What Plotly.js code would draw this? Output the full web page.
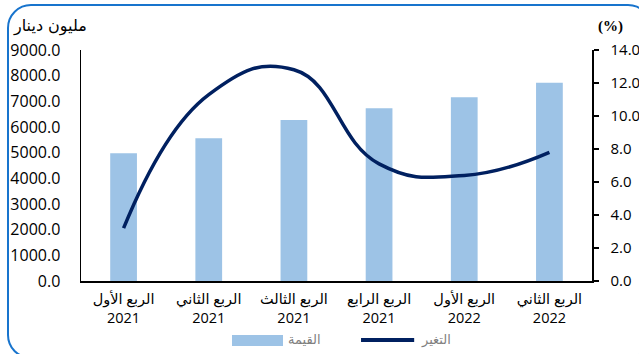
<!DOCTYPE html>
<html>
<head>
<meta charset="utf-8">
<script src="https://cdn.plot.ly/plotly-3.0.1.min.js"></script>
<style>
  html, body { margin: 0; padding: 0; background: #ffffff; overflow: hidden; }
  #frame { position: absolute; left: 7px; top: 4px; width: 645px; height: 355px;
           border: 2px solid #1874CD; border-radius: 24px; box-sizing: border-box; }
  #chart { position: absolute; left: 0; top: 0; width: 639px; height: 354px; }
</style>
</head>
<body>
<div id="frame"></div>
<div id="chart"></div>
<script>
// ---- data ----
const quarters = ["الربع الأول", "الربع الثاني", "الربع الثالث", "الربع الرابع", "الربع الأول", "الربع الثاني"];
const years = ["2021", "2021", "2021", "2021", "2022", "2022"];
const valueSeries = [4980, 5560, 6270, 6730, 7160, 7725];   // القيمة (مليون دينار)
const changeSeries = [3.2, 11.3, 12.8, 7.1, 6.4, 7.8];      // التغير (%)
const valueName = "القيمة";
const changeName = "التغير";
const leftUnit = "مليون دينار";
const rightUnit = "(%)";

const cats = quarters.map((q, i) => q + "<br>" + years[i]);

const barColor = "#9DC3E6";
const lineColor = "#002060";

const traces = [
  {
    type: "bar", name: valueName, x: cats, y: valueSeries,
    marker: { color: barColor }, width: 0.314, yaxis: "y"
  },
  {
    type: "scatter", mode: "lines", name: changeName, x: cats, y: changeSeries,
    line: { color: lineColor, width: 3.5, shape: "spline", smoothing: 1.3 },
    yaxis: "y2"
  }
];

const tickFont = { family: "Open Sans, DejaVu Sans, sans-serif", size: 16, color: "#000000" };
const legendFont = { family: "DejaVu Sans, sans-serif", size: 13, color: "#7F7F7F" };

const layout = {
  width: 639, height: 354,
  margin: { l: 81, r: 47, t: 50, b: 73, autoexpand: false },
  paper_bgcolor: "rgba(0,0,0,0)", plot_bgcolor: "rgba(0,0,0,0)",
  showlegend: false,
  xaxis: {
    type: "category", range: [-0.5, 5.5],
    showline: true, linecolor: "#000000", linewidth: 1.5,
    ticks: "", showgrid: false, zeroline: false,
    tickfont: { family: "Open Sans, DejaVu Sans, sans-serif", size: 14.5, color: "#000000" },
    ticklabelstandoff: 4
  },
  yaxis: {
    range: [0, 9000], dtick: 1000, tickformat: ".1f",
    showline: true, linecolor: "#000000", linewidth: 1.5,
    ticks: "", showgrid: false, zeroline: false,
    tickfont: tickFont, ticklabelstandoff: 16
  },
  yaxis2: {
    overlaying: "y", side: "right",
    range: [0, 14], dtick: 2, tickformat: ".1f",
    showline: true, linecolor: "#000000", linewidth: 1.5,
    ticks: "outside", ticklen: 5, tickwidth: 1.5, tickcolor: "#000000",
    showgrid: false, zeroline: false,
    tickfont: { family: "Open Sans, DejaVu Sans, sans-serif", size: 15, color: "#000000" },
    ticklabelstandoff: 9
  },
  shapes: [
    // legend swatches
    { type: "rect", xref: "paper", yref: "paper", x0: 0.2955, x1: 0.3953, y0: -0.2814, y1: -0.2338,
      fillcolor: barColor, line: { width: 0 } },
    { type: "line", xref: "paper", yref: "paper", x0: 0.548, x1: 0.652, y0: -0.2554, y1: -0.2554,
      line: { color: lineColor, width: 4 } }
  ],
  annotations: [
    { text: leftUnit, xref: "paper", yref: "paper", x: -0.06, y: 1.0, yshift: 24,
      xanchor: "center", yanchor: "middle", showarrow: false,
      font: { family: "DejaVu Sans, sans-serif", size: 16, color: "#000000" } },
    { text: "<b>" + rightUnit + "</b>", xref: "paper", yref: "paper", x: 1.0, xshift: 18, y: 1.0, yshift: 24,
      xanchor: "center", yanchor: "middle", showarrow: false,
      font: { family: "Liberation Serif, serif", size: 15, color: "#000000" } },
    { text: valueName, xref: "paper", yref: "paper", x: 0.4374, y: -0.2554,
      xanchor: "center", yanchor: "middle", showarrow: false, font: legendFont },
    { text: changeName, xref: "paper", yref: "paper", x: 0.6947, y: -0.2554,
      xanchor: "center", yanchor: "middle", showarrow: false, font: legendFont }
  ]
};

Plotly.newPlot("chart", traces, layout, { displayModeBar: false, staticPlot: true });
</script>
</body>
</html>
